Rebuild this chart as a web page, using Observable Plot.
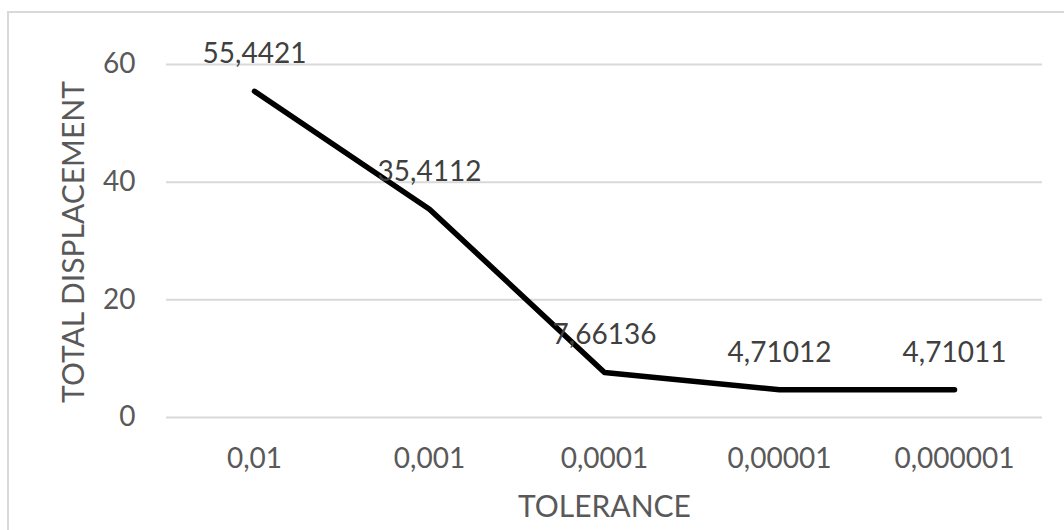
<!DOCTYPE html>
<html>
<head>
<meta charset="utf-8">
<script src="https://cdn.jsdelivr.net/npm/d3@7"></script>
<script src="https://cdn.jsdelivr.net/npm/@observablehq/plot@0.6"></script>
<style>
  html, body { margin: 0; padding: 0; background: #fff; overflow: hidden; }
  #wrap { position: relative; width: 1064px; height: 530px; }
  #frame {
    position: absolute; left: 7px; top: 11px; width: 2000px; height: 2000px;
    border: 2px solid #d9d9d9; box-sizing: border-box; pointer-events: none; z-index: 2;
  }
</style>
</head>
<body>
<div id="wrap"><div id="frame"></div></div>
<script>
// Convergence of total displacement against solver tolerance
const tolerances = ["0,01", "0,001", "0,0001", "0,00001", "0,000001"];
const displacement = [55.4421, 35.4112, 7.66136, 4.71012, 4.71011];
const yTicks = [0, 20, 40, 60];

const rows = tolerances.map((t, i) => ({ tol: t, disp: displacement[i] }));
const fmt = v => String(v).replace(".", ",");
const font = "Lato, 'Open Sans', sans-serif";

const chart = Plot.plot({
  width: 1064,
  height: 530,
  marginLeft: 166,
  marginRight: 22,
  marginTop: 64,
  marginBottom: 113,
  style: { fontFamily: font, fontSize: "28px", color: "#595959", background: "transparent", overflow: "visible" },
  x: { type: "point", domain: tolerances, padding: 0.5 },
  y: { domain: [0, 60] },
  marks: [
    Plot.gridY(yTicks, { stroke: "#d9d9d9", strokeOpacity: 1, strokeWidth: 2 }),
    Plot.axisY(yTicks, { tickSize: 0, tickPadding: 31, fill: "#595959", fontSize: 28, label: null }),
    Plot.axisX({ tickSize: 0, tickPadding: 31, fill: "#595959", fontSize: 28, label: null }),
    Plot.line(rows, {
      x: "tol", y: "disp", stroke: "#000", strokeWidth: 5.5,
      strokeLinecap: "round", strokeLinejoin: "round"
    }),
    Plot.text(rows, {
      x: "tol", y: "disp", text: d => fmt(d.disp), dy: -37,
      fill: "#404040", fontSize: 28
    }),
    Plot.text(["TOLERANCE"], {
      frameAnchor: "bottom", text: d => d, dy: 90, lineAnchor: "middle", textAnchor: "middle",
      fill: "#595959", fontSize: 30
    }),
    Plot.text(["TOTAL DISPLACEMENT"], {
      frameAnchor: "left", text: d => d, rotate: -90, dx: -92, dy: 1,
      textAnchor: "middle", lineAnchor: "middle", fill: "#595959", fontSize: 30
    })
  ]
});

document.getElementById("wrap").appendChild(chart);
</script>
</body>
</html>
